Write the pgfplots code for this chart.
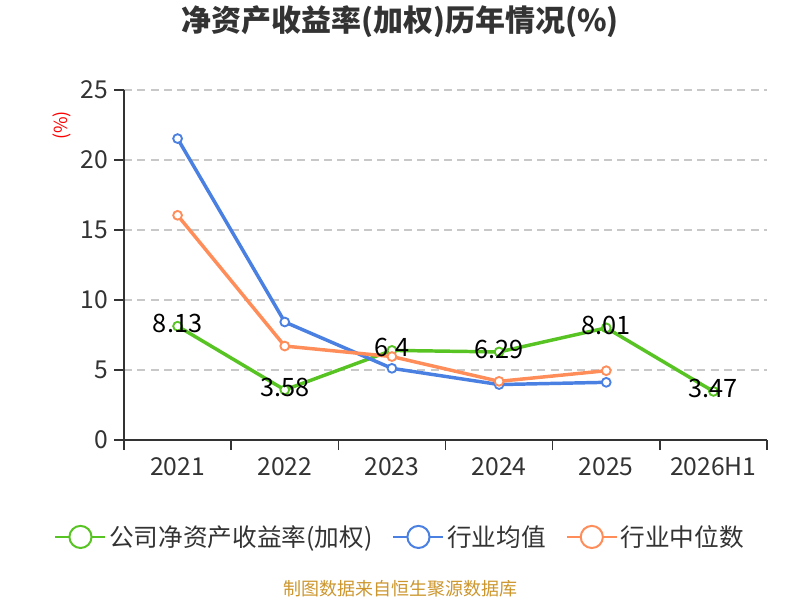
\documentclass[border=0pt]{standalone}
\usepackage{pgfplots}
\pgfplotsset{compat=1.18}
\usepackage{fontspec}
\setmainfont{Noto Sans CJK SC}
\definecolor{cgreen}{RGB}{88,196,36}
\definecolor{cblue}{RGB}{74,128,226}
\definecolor{corange}{RGB}{255,141,90}
\definecolor{ctext}{RGB}{51,51,51}
\definecolor{cgrid}{RGB}{200,200,200}
\definecolor{csrc}{RGB}{204,150,45}
\begin{document}
\begin{tikzpicture}
\path[use as bounding box] (0,0) rectangle (600pt,450pt);
\begin{axis}[
  at={(93pt,120pt)}, anchor=south west,
  scale only axis, width=482.25pt, height=262.5pt,
  xmin=-0.5, xmax=5.5, ymin=0, ymax=25,
  axis x line*=bottom, axis y line*=left,
  axis line style={draw=ctext, line width=1.2pt},
  xtick={0,1,2,3,4,5},
  xticklabels={2021,2022,2023,2024,2025,2026H1},
  minor xtick={-0.5,0.5,1.5,2.5,3.5,4.5,5.5},
  major x tick style={draw=none},
  minor x tick style={draw=ctext, line width=1.2pt},
  minor tick length=7.5pt,
  ytick={0,5,10,15,20,25},
  major y tick style={draw=ctext, line width=1.2pt},
  major tick length=7.5pt,
  tick align=outside,
  ymajorgrids,
  grid style={draw=cgrid, line width=0.9pt, dash pattern=on 6pt off 4pt},
  tick label style={font=\fontsize{18.5}{20}\selectfont, text=ctext},
  xticklabel style={yshift=-2pt},
  yticklabel style={xshift=-1pt},
  /pgf/number format/assume math mode=true,
  every axis plot/.append style={line width=2.6pt, mark=*, mark size=3.3pt,
     mark options={fill=white, line width=1.4pt, solid}},
  legend style={at={(axis description cs:0.43,-0.277)}, anchor=center,
     draw=none, fill=none, legend columns=3,
     font=\fontsize{18.5}{22}\selectfont, text=ctext,
     /tikz/every even column/.append style={column sep=13pt}},
  legend cell align=left,
  legend image code/.code={
     \draw[line width=1.5pt] (0pt,0pt) -- (37.5pt,0pt);
     \draw[line width=1.5pt, fill=white] (18.75pt,0pt) circle (8.3pt);
  },
]
\addplot[color=cgreen,
  nodes near coords, point meta=y,
  every node near coord/.style={anchor=center, yshift=2pt, text=black,
    font=\fontsize{19}{21}\selectfont,
    /pgf/number format/.cd, fixed, precision=2, assume math mode=true}]
  coordinates {(0,8.13) (1,3.58) (2,6.4) (3,6.29) (4,8.01) (5,3.47)};
\addlegendentry{公司净资产收益率(加权)}
\addplot[color=cblue]
  coordinates {(0,21.53) (1,8.43) (2,5.12) (3,3.96) (4,4.12)};
\addlegendentry{行业均值}
\addplot[color=corange]
  coordinates {(0,16.05) (1,6.71) (2,5.96) (3,4.19) (4,4.95)};
\addlegendentry{行业中位数}
\end{axis}
\node[font=\bfseries\fontsize{22.5}{26}\selectfont, text=ctext] at (300pt,433.5pt) {净资产收益率(加权)历年情况(\%)};
\node[rotate=90, text=red, font=\fontsize{13.5}{15}\selectfont] at (46.5pt,356pt) {(\%)};
\node[text=csrc, font=\fontsize{13.5}{15}\selectfont] at (300pt,8.25pt) {制图数据来自恒生聚源数据库};
\end{tikzpicture}
\end{document}
